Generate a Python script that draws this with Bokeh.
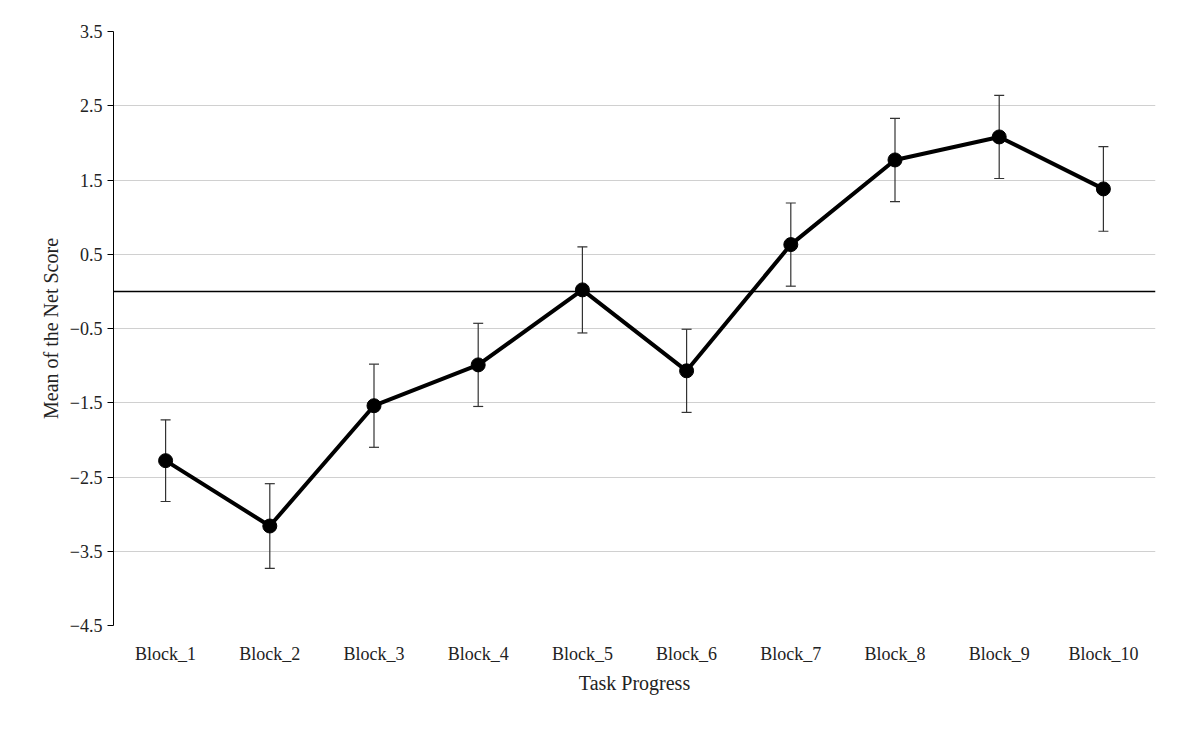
from bokeh.plotting import figure
from bokeh.models import FactorRange, Span, FixedTicker
from bokeh.embed import file_html
from bokeh.resources import INLINE

blocks = ["Block_1","Block_2","Block_3","Block_4","Block_5","Block_6","Block_7","Block_8","Block_9","Block_10"]
means = [-2.28, -3.16, -1.54, -0.99, 0.02, -1.07, 0.63, 1.77, 2.08, 1.38]
errs = [0.55, 0.57, 0.56, 0.56, 0.58, 0.56, 0.56, 0.56, 0.56, 0.57]
yticks = [-4.5, -3.5, -2.5, -1.5, -0.5, 0.5, 1.5, 2.5, 3.5]

p = figure(width=1165, height=737, x_range=FactorRange(*blocks, range_padding=0),
           y_range=(-4.5, 3.5), output_backend="svg", toolbar_location=None,
           min_border_left=113, min_border_right=10, min_border_top=31, min_border_bottom=112)
p.outline_line_color = None
p.xgrid.grid_line_color = None
p.ygrid.grid_line_color = "#d0d0d0"
p.ygrid.grid_line_width = 1
p.yaxis.ticker = FixedTicker(ticks=yticks)
p.yaxis.minor_tick_line_color = None
p.yaxis.major_tick_in = 0
p.yaxis.major_tick_out = 6
p.xaxis.axis_line_color = None
p.xaxis.major_tick_line_color = None
for ax in (p.xaxis, p.yaxis):
    ax.major_label_text_font = "Liberation Serif"
    ax.major_label_text_font_size = "18px"
    ax.major_label_text_color = "#222222"
    ax.axis_label_text_font = "Liberation Serif"
    ax.axis_label_text_font_size = "20px"
    ax.axis_label_text_font_style = "normal"
    ax.axis_label_text_color = "#222222"
p.xaxis.major_label_standoff = 12
p.xaxis.axis_label = "Task Progress"
p.yaxis.axis_label = "Mean of the Net Score"
p.add_layout(Span(location=0, dimension="width", line_color="black", line_width=1.5))

lo = [m - e for m, e in zip(means, errs)]
hi = [m + e for m, e in zip(means, errs)]
p.segment(x0=blocks, x1=blocks, y0=lo, y1=hi, line_color="#333333", line_width=1.2)
p.dash(x=blocks, y=lo, size=10, angle=0, line_color="#333333", line_width=1.2)
p.dash(x=blocks, y=hi, size=10, angle=0, line_color="#333333", line_width=1.2)
p.line(x=blocks, y=means, line_color="black", line_width=4)
p.scatter(x=blocks, y=means, size=14, color="black")

open("out.html", "w").write(file_html(p, INLINE))
